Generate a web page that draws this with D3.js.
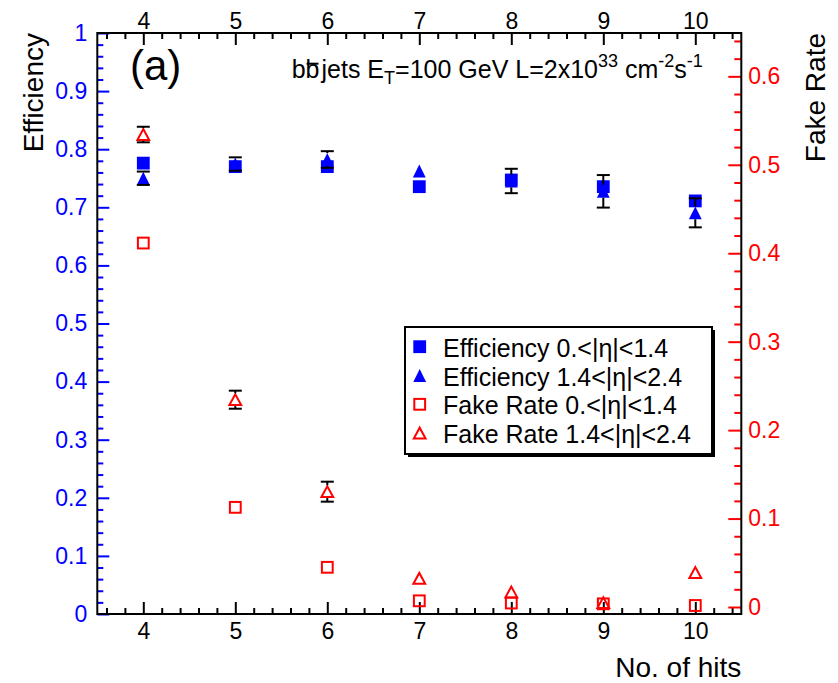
<!DOCTYPE html>
<html>
<head>
<meta charset="utf-8">
<script src="https://cdn.jsdelivr.net/npm/d3@7"></script>
<style>
  body { margin: 0; background: #fff; }
  svg text { font-family: "Liberation Sans", Arial, sans-serif; }
</style>
</head>
<body>
<div id="chart"></div>
<script>
// data
const hits = [4, 5, 6, 7, 8, 9, 10];
const effBarrel = [0.776, 0.770, 0.770, 0.7355, 0.747, 0.7355, 0.711];
const effBarrelErr = [0.004, 0.004, 0.004, 0.004, 0.004, 0.004, 0.004];
const effEndcap = [0.750, 0.7745, 0.7823, 0.7625, 0.7453, 0.7275, 0.6905];
const effEndcapErr = [0.0115, 0.0115, 0.0143, 0.004, 0.021, 0.028, 0.025];
const fakeBarrel = [0.4115, 0.1127, 0.0449, 0.0070, 0.0045, 0.0036, 0.0017];
const fakeBarrelErr = [0.003, 0.003, 0.003, 0.002, 0.002, 0.002, 0.002];
const fakeEndcap = [0.5342, 0.2344, 0.1304, 0.0324, 0.017, 0.0049, 0.039];
const fakeEndcapErr = [0.0088, 0.0102, 0.0113, 0.003, 0.003, 0.003, 0.003];

const xTicks = [4, 5, 6, 7, 8, 9, 10];
const effTicks = [0, 0.1, 0.2, 0.3, 0.4, 0.5, 0.6, 0.7, 0.8, 0.9, 1];
const fakeTicks = [0, 0.1, 0.2, 0.3, 0.4, 0.5, 0.6];
const legendLabels = [
  "Efficiency 0.<|η|<1.4",
  "Efficiency 1.4<|η|<2.4",
  "Fake Rate 0.<|η|<1.4",
  "Fake Rate 1.4<|η|<2.4"
];

const W = 838, H = 683;
const frame = { left: 97.3, right: 741.3, top: 33, bottom: 614 };
const BLUE = "#0000ff", RED = "#ff0000";

const svg = d3.select("#chart").append("svg")
  .attr("width", W).attr("height", H);

const x = d3.scaleLinear().domain([3.5, 10.5]).range([frame.left, frame.right]);
const yL = d3.scaleLinear().domain([0, 1]).range([frame.bottom, frame.top]);
const yR = d3.scaleLinear().domain([-0.0079, 0.649]).range([frame.bottom, frame.top]);

const fmt = d => (d === 0 ? "0" : d === 1 ? "1" : d.toFixed(1));

// minor tick values
const xMinor = d3.range(3.6, 10.5, 0.2).filter(v => Math.abs(v - Math.round(v)) > 0.01);
const effMinor = d3.range(0, 1.001, 0.02).filter(v => Math.abs(v * 10 - Math.round(v * 10)) > 0.01);
const fakeMinor = d3.range(0, 0.649, 0.02).filter(v => Math.abs(v * 10 - Math.round(v * 10)) > 0.01);

function styleAxis(g, color, fontSize) {
  g.select(".domain").remove();
  g.selectAll("line").attr("stroke", color).attr("stroke-width", 2);
  g.selectAll("text").attr("fill", color).attr("font-size", fontSize);
}

// bottom axis
svg.append("g").attr("transform", `translate(0,${frame.bottom})`)
  .call(d3.axisBottom(x).tickValues(xMinor).tickSize(-6).tickFormat(""))
  .call(g => styleAxis(g, "#000", 23));
svg.append("g").attr("transform", `translate(0,${frame.bottom})`)
  .call(d3.axisBottom(x).tickValues(xTicks).tickSize(-12).tickPadding(9).tickFormat(d3.format("d")))
  .call(g => styleAxis(g, "#000", 23));

// top axis
svg.append("g").attr("transform", `translate(0,${frame.top})`)
  .call(d3.axisTop(x).tickValues(xMinor).tickSize(-6).tickFormat(""))
  .call(g => styleAxis(g, "#000", 23));
svg.append("g").attr("transform", `translate(0,${frame.top})`)
  .call(d3.axisTop(x).tickValues(xTicks).tickSize(-12).tickPadding(4).tickFormat(d3.format("d")))
  .call(g => styleAxis(g, "#000", 23));

// left axis (efficiency)
svg.append("g").attr("transform", `translate(${frame.left},0)`)
  .call(d3.axisLeft(yL).tickValues(effMinor).tickSize(-6).tickFormat(""))
  .call(g => styleAxis(g, BLUE, 23));
svg.append("g").attr("transform", `translate(${frame.left},0)`)
  .call(d3.axisLeft(yL).tickValues(effTicks).tickSize(-12).tickPadding(10).tickFormat(fmt))
  .call(g => styleAxis(g, BLUE, 23));

// right axis (fake rate)
svg.append("g").attr("transform", `translate(${frame.right},0)`)
  .call(d3.axisRight(yR).tickValues(fakeMinor).tickSize(-7).tickFormat(""))
  .call(g => styleAxis(g, RED, 23));
svg.append("g").attr("transform", `translate(${frame.right},0)`)
  .call(d3.axisRight(yR).tickValues(fakeTicks).tickSize(-13).tickPadding(7).tickFormat(fmt))
  .call(g => styleAxis(g, RED, 23));

// frame
svg.append("rect")
  .attr("x", frame.left).attr("y", frame.top)
  .attr("width", frame.right - frame.left).attr("height", frame.bottom - frame.top)
  .attr("fill", "none").attr("stroke", "#000").attr("stroke-width", 2);

// axis titles
svg.append("text")
  .attr("transform", `translate(42.7,${frame.top}) rotate(-90)`)
  .attr("text-anchor", "end").attr("font-size", 28)
  .text("Efficiency");
svg.append("text")
  .attr("transform", `translate(825,${frame.top}) rotate(-90)`)
  .attr("text-anchor", "end").attr("font-size", 28)
  .text("Fake Rate");
svg.append("text")
  .attr("x", frame.right).attr("y", 677)
  .attr("text-anchor", "end").attr("font-size", 28)
  .text("No. of hits");

// panel label and annotation
svg.append("text").attr("x", 130).attr("y", 79.5).attr("font-size", 42).text("(a)");

const note = svg.append("text").attr("x", 291.7).attr("y", 77.7).attr("font-size", 25);
note.append("tspan").text("bb");
note.append("tspan").attr("dx", 2).text("jets E");
note.append("tspan").attr("font-size", 18).attr("dy", 6).text("T");
note.append("tspan").attr("dy", -6).text("=100 GeV L=2x10");
note.append("tspan").attr("font-size", 18).attr("dy", -11).text("33");
note.append("tspan").attr("dy", 11).text(" cm");
note.append("tspan").attr("font-size", 18).attr("dy", -11).text("-2");
note.append("tspan").attr("dy", 11).text("s");
note.append("tspan").attr("font-size", 18).attr("dy", -11).text("-1");
// bar over the second b
{
  const n = note.node();
  const p0 = n.getStartPositionOfChar(1), p1 = n.getEndPositionOfChar(1);
  svg.append("line")
    .attr("x1", p0.x + 1).attr("x2", p1.x - 1)
    .attr("y1", 77.7 - 14).attr("y2", 77.7 - 14)
    .attr("stroke", "#000").attr("stroke-width", 2);
}

// markers
const HS = 6.4;
function drawMarker(g, type, cx, cy) {
  if (type === "sq") {
    g.append("rect").attr("x", cx - HS).attr("y", cy - HS)
      .attr("width", 2 * HS).attr("height", 2 * HS).attr("fill", BLUE);
  } else if (type === "tri") {
    g.append("path")
      .attr("d", `M${cx - HS},${cy + HS}L${cx + HS},${cy + HS}L${cx},${cy - HS}Z`)
      .attr("fill", BLUE);
  } else if (type === "osq") {
    g.append("rect").attr("x", cx - HS + 1).attr("y", cy - HS + 1)
      .attr("width", 2 * HS - 2).attr("height", 2 * HS - 2)
      .attr("fill", "none").attr("stroke", RED).attr("stroke-width", 2);
  } else {
    const h = HS - 1;
    g.append("path")
      .attr("d", `M${cx - h - 0.5},${cy + h}L${cx + h + 0.5},${cy + h}L${cx},${cy - h}Z`)
      .attr("fill", "none").attr("stroke", RED).attr("stroke-width", 2)
      .attr("stroke-linejoin", "miter");
  }
}

function drawGraph(vals, errs, yScale, type) {
  const g = svg.append("g");
  hits.forEach((h, i) => {
    drawMarker(g, type, x(h), yScale(vals[i]));
  });
  // error bars, drawn outside the marker like ROOT does
  hits.forEach((h, i) => {
    const cx = x(h), cy = yScale(vals[i]);
    const up = cy - yScale(vals[i] + errs[i]);
    const dn = yScale(vals[i] - errs[i]) - cy;
    [[-1, up], [1, dn]].forEach(([s, len]) => {
      if (len > HS) {
        g.append("line").attr("x1", cx).attr("x2", cx)
          .attr("y1", cy + s * HS).attr("y2", cy + s * len)
          .attr("stroke", "#000").attr("stroke-width", 2);
        g.append("line").attr("x1", cx - 6.5).attr("x2", cx + 6.5)
          .attr("y1", cy + s * len).attr("y2", cy + s * len)
          .attr("stroke", "#000").attr("stroke-width", 2);
      }
    });
  });
}

drawGraph(effBarrel, effBarrelErr, yL, "sq");
drawGraph(effEndcap, effEndcapErr, yL, "tri");
drawGraph(fakeBarrel, fakeBarrelErr, yR, "osq");
drawGraph(fakeEndcap, fakeEndcapErr, yR, "otri");

// legend
const leg = svg.append("g");
leg.append("rect").attr("x", 408).attr("y", 330).attr("width", 307).attr("height", 127).attr("fill", "#000");
leg.append("rect").attr("x", 405).attr("y", 327).attr("width", 307).attr("height", 127)
  .attr("fill", "#fff").attr("stroke", "#000").attr("stroke-width", 2);
const legTypes = ["sq", "tri", "osq", "otri"];
legendLabels.forEach((lab, i) => {
  const cy = 346.7 + i * 28.8;
  drawMarker(leg, legTypes[i], 419.7, cy);
  leg.append("text").attr("x", 443).attr("y", cy + 10).attr("font-size", 25).text(lab);
});
</script>
</body>
</html>
